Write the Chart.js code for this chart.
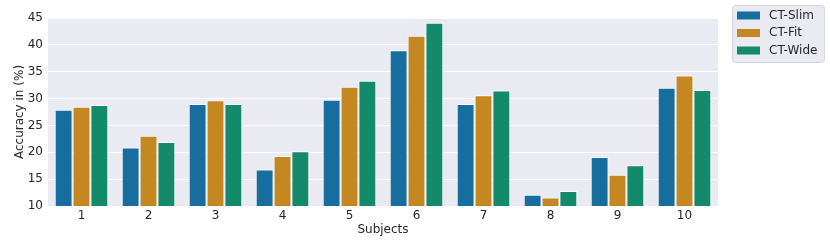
<!DOCTYPE html>
<html>
<head>
<meta charset="utf-8">
<script src="https://cdn.jsdelivr.net/npm/chart.js@4"></script>
<style>
  html, body { margin: 0; padding: 0; background: #fff; }
  #wrap { width: 830px; height: 252px; }
</style>
</head>
<body>
<div id="wrap"><canvas id="chart" width="830" height="252"></canvas></div>
<script>
const subjects = ['1', '2', '3', '4', '5', '6', '7', '8', '9', '10'];
const ctSlim = [27.9, 20.9, 29.0, 16.8, 29.8, 39.0, 29.0, 12.1, 19.1, 32.0];
const ctFit  = [28.5, 23.1, 29.7, 19.3, 32.2, 41.7, 30.6, 11.6, 15.8, 34.3];
const ctWide = [28.8, 21.9, 29.0, 20.2, 33.3, 44.1, 31.5, 12.8, 17.6, 31.6];
const yTicks = [10, 15, 20, 25, 30, 35, 40, 45];

const FONT = 'DejaVu Sans';
const TEXT = '#262626';

// grey plot background like seaborn darkgrid
const bgPlugin = {
    id: 'plotBg',
    beforeDraw(chart) {
        const { ctx, chartArea: a } = chart;
        ctx.save();
        ctx.fillStyle = '#EAEAF2';
        ctx.fillRect(a.left, a.top, a.right - a.left, a.bottom - a.top);
        ctx.restore();
    }
};

// legend outside the axes, top right
const legendPlugin = {
    id: 'outLegend',
    afterDraw(chart) {
        const { ctx } = chart;
        const x0 = 732, y0 = 5, w = 92, h = 57;
        ctx.save();
        ctx.beginPath();
        ctx.roundRect(x0 + 0.5, y0 + 0.5, w, h, 3);
        ctx.fillStyle = '#EAEAF2';
        ctx.fill();
        ctx.strokeStyle = '#D5D5DC';
        ctx.lineWidth = 1;
        ctx.stroke();
        ctx.font = '12px ' + FONT;
        ctx.textBaseline = 'middle';
        chart.data.datasets.forEach((ds, i) => {
            const cy = y0 + 10.5 + i * 17.5;
            ctx.fillStyle = ds.backgroundColor;
            ctx.fillRect(737, cy - 4, 23, 8);
            ctx.fillStyle = TEXT;
            ctx.fillText(ds.label, 769, cy);
        });
        ctx.restore();
    }
};

const ctx = document.querySelector('#chart');
new Chart(ctx, {
    type: 'bar',
    data: {
        labels: subjects,
        datasets: [
            { label: 'CT-Slim', data: ctSlim, backgroundColor: '#176E9E' },
            { label: 'CT-Fit',  data: ctFit,  backgroundColor: '#C48722' },
            { label: 'CT-Wide', data: ctWide, backgroundColor: '#138A6A' }
        ].map(d => Object.assign(d, {
            borderColor: '#FFFFFF',
            borderWidth: 1,
            categoryPercentage: 0.8,
            barPercentage: 1.0
        }))
    },
    options: {
        responsive: false,
        animation: false,
        layout: { padding: { left: 13, right: 112, top: 18, bottom: 15 } },
        plugins: {
            legend: { display: false },
            tooltip: { enabled: false }
        },
        scales: {
            x: {
                afterFit(axis) { axis.height = 31; },
                grid: { display: false, drawTicks: false },
                border: { display: false },
                ticks: { color: TEXT, font: { family: FONT, size: 12 }, padding: 3 },
                title: { display: true, text: 'Subjects', color: TEXT, font: { family: FONT, size: 12 }, padding: { top: 0, bottom: 0 } }
            },
            y: {
                min: 10,
                max: 45,
                afterFit(axis) { axis.width = 35; },
                afterBuildTicks(axis) { axis.ticks = yTicks.map(v => ({ value: v })); },
                grid: { color: '#FFFFFF', lineWidth: 1, drawTicks: false },
                border: { display: false },
                ticks: { color: TEXT, font: { family: FONT, size: 12 }, padding: 5 },
                title: { display: true, text: 'Accuracy in (%)', color: TEXT, font: { family: FONT, size: 12 }, padding: { top: 0, bottom: 0 } }
            }
        }
    },
    plugins: [bgPlugin, legendPlugin]
});
</script>
</body>
</html>
